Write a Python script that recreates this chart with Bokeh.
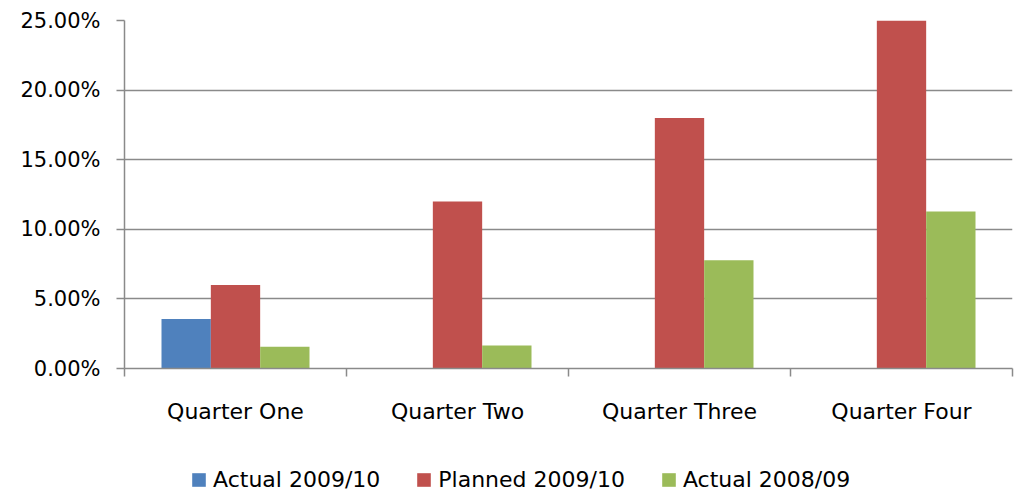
import numpy as np
from bokeh.plotting import figure
from bokeh.layouts import column
from bokeh.models import (Range1d, FixedTicker, NumeralTickFormatter, Legend,
                          LegendItem, ColumnDataSource)
from bokeh.embed import file_html
from bokeh.resources import INLINE

# ---- data ----
quarters = ["Quarter One", "Quarter Two", "Quarter Three", "Quarter Four"]
actual_2009_10 = [0.0355, None, None, None]
planned_2009_10 = [0.06, 0.12, 0.18, 0.25]
actual_2008_09 = [0.0156, 0.0166, 0.0778, 0.1128]
series_names = ["Actual 2009/10", "Planned 2009/10", "Actual 2008/09"]
y_ticks = [0.0, 0.05, 0.10, 0.15, 0.20, 0.25]

colors = ["#4F81BD", "#C0504D", "#9BBB59"]
FONT = "DejaVu Sans"
FS = "21px"
FS2 = "22px"
GRAY = "#8a8a8a"

n = len(quarters)
centers = [i + 0.5 for i in range(n)]
bar_w = 1 / 4.5
offsets = [-bar_w, 0.0, bar_w]

p = figure(width=1027, height=440, output_backend="svg", toolbar_location=None,
           x_range=Range1d(0, n), y_range=Range1d(0, 0.25),
           min_border_left=124, min_border_top=20, min_border_right=15,
           min_border_bottom=72)
p.outline_line_color = None
p.xgrid.visible = False
p.ygrid.ticker = FixedTicker(ticks=y_ticks)
p.ygrid.grid_line_color = GRAY
p.ygrid.grid_line_width = 1.5

# legend strip below the chart (shares the data sources; its ranges keep the bars off-screen)
lf = figure(width=1027, height=58, output_backend="svg", toolbar_location=None,
            x_range=Range1d(100, 101), y_range=Range1d(100, 101),
            x_axis_type=None, y_axis_type=None,
            min_border_left=0, min_border_right=0, min_border_top=0, min_border_bottom=0)
lf.outline_line_color = None
lf.xgrid.visible = False
lf.ygrid.visible = False

legend_renderers = []
for vals, off, col in zip([actual_2009_10, planned_2009_10, actual_2008_09], offsets, colors):
    y = np.array([np.nan if v is None else v for v in vals], dtype=float)
    src = ColumnDataSource(dict(x=[c + off for c in centers], top=y))
    p.vbar(x="x", top="top", bottom=0, width=bar_w, source=src,
           fill_color=col, line_color=None)
    legend_renderers.append(lf.vbar(x="x", top="top", bottom=0, width=bar_w, source=src,
                                    fill_color=col, line_color=None))

# y axis
ya = p.yaxis[0]
ya.ticker = FixedTicker(ticks=y_ticks)
ya.formatter = NumeralTickFormatter(format="0.00%")
ya.axis_line_color = GRAY
ya.axis_line_width = 1.5
ya.major_tick_line_color = GRAY
ya.major_tick_line_width = 1.5
ya.major_tick_out = 8
ya.major_tick_in = 0
ya.minor_tick_line_color = None
ya.major_label_text_font = FONT
ya.major_label_text_font_size = FS
ya.major_label_text_color = "black"
ya.major_label_standoff = 16

# x axis
xa = p.xaxis[0]
xa.ticker = FixedTicker(ticks=centers, minor_ticks=list(range(n + 1)))
xa.major_label_overrides = {c: q for c, q in zip(centers, quarters)}
xa.axis_line_color = GRAY
xa.axis_line_width = 1.5
xa.major_tick_line_color = None
xa.major_tick_out = 0
xa.major_tick_in = 0
xa.minor_tick_line_color = GRAY
xa.minor_tick_line_width = 1.5
xa.minor_tick_out = 8
xa.minor_tick_in = 0
xa.major_label_text_font = FONT
xa.major_label_text_font_size = FS2
xa.major_label_text_color = "black"
xa.major_label_standoff = 22

legend = Legend(items=[LegendItem(label=nm, renderers=[r]) for nm, r in zip(series_names, legend_renderers)],
                orientation="horizontal", location=(66, 6),
                glyph_width=17, glyph_height=17, label_standoff=6, spacing=35,
                label_text_font=FONT, label_text_font_size=FS2, label_text_color="black",
                border_line_color=None, background_fill_alpha=0,
                padding=0, margin=0)
lf.add_layout(legend)

open("out.html", "w").write(file_html(column(p, lf, spacing=0), INLINE))
